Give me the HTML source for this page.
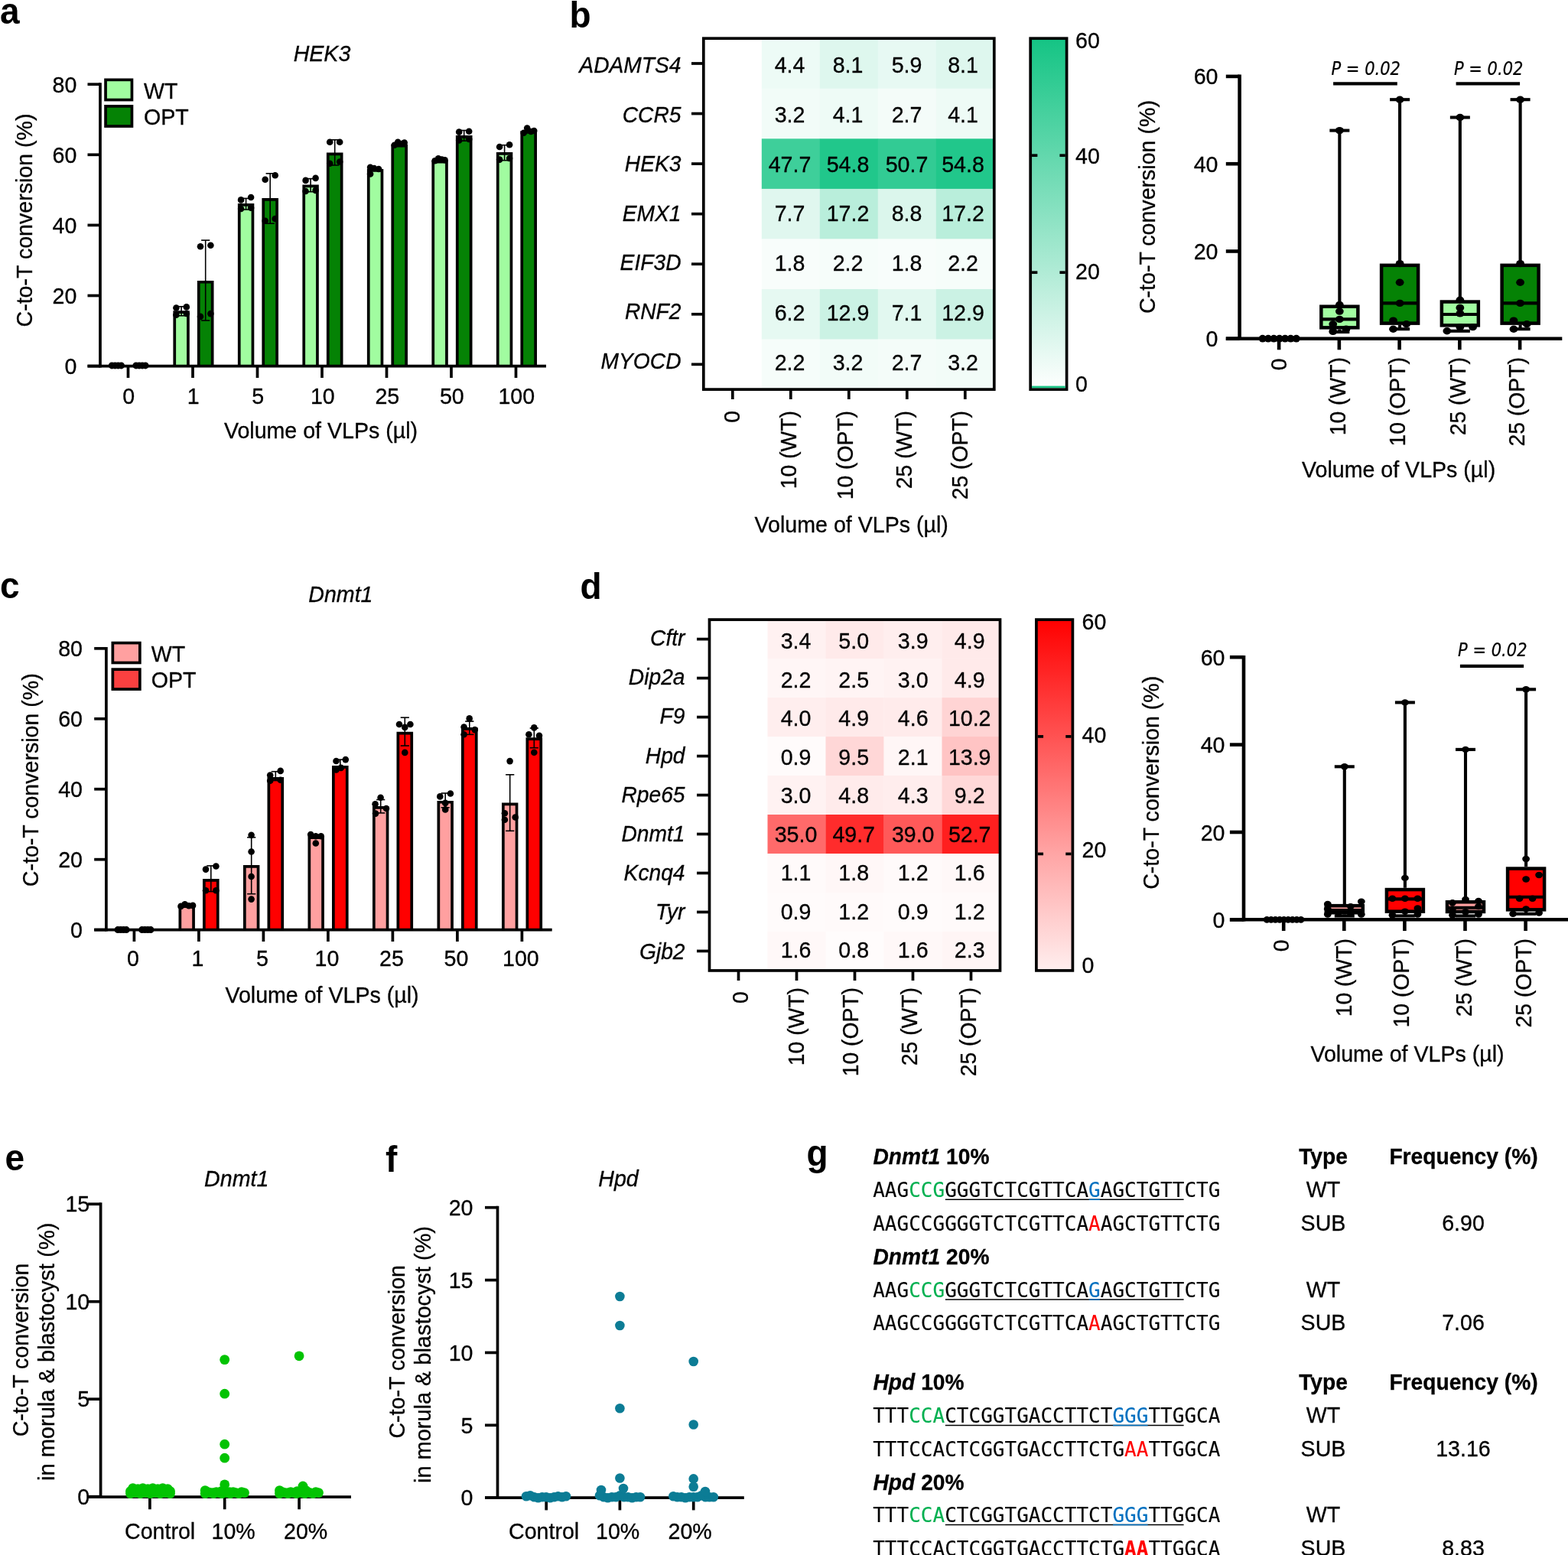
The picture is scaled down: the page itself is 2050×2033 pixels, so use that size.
<!DOCTYPE html>
<html lang="en"><head><meta charset="utf-8"><title>Figure</title>
<style>
html,body{margin:0;padding:0;background:#fff;}
body{width:2050px;height:2033px;overflow:hidden;}
svg{display:block;}
text{font-family:"Liberation Sans",Arial,Helvetica,sans-serif;font-size:28.6px;fill:#000;stroke:#000;stroke-width:0.3px;}
.i{font-style:italic;}
.b{font-weight:bold;}
.bi{font-weight:bold;font-style:italic;}
.pv{font-family:"DejaVu Sans Condensed","Liberation Sans",sans-serif;font-style:italic;stroke-width:0.2px;}
.pl{font-weight:bold;font-size:46px;stroke:none;}
.m{font-family:"DejaVu Sans Mono","Liberation Mono",monospace;font-size:26px;stroke-width:0.1px;}
.g{fill:#00b050;stroke:#00b050;}.u{fill:#0070c0;stroke:#0070c0;}.r{fill:#ff0000;stroke:#ff0000;}
</style></head><body>
<svg width="2050" height="2033" viewBox="0 0 2050 2033">
<defs>
<linearGradient id="gg" x1="0" y1="0" x2="0" y2="1"><stop offset="0" stop-color="#14c484"/><stop offset="1" stop-color="#ffffff"/></linearGradient>
<linearGradient id="gr" x1="0" y1="0" x2="0" y2="1"><stop offset="0" stop-color="#ff0000"/><stop offset="0.333" stop-color="#ff5252"/><stop offset="0.667" stop-color="#ffa5a5"/><stop offset="1" stop-color="#ffeeee"/></linearGradient>
</defs>
<text class="pl" transform="translate(0,30.7) scale(1,1.03)">a</text>
<text text-anchor="middle" class="i" transform="translate(421,80.3) scale(1,1.03)">HEK3</text>
<text text-anchor="middle" transform="translate(41.6,288) rotate(-90) scale(1,1.03)">C-to-T conversion (%)</text>
<path d="M228.25 478.7V408.05H245.95V478.7" fill="#a1fca0" stroke="#000" stroke-width="3.7"/>
<line x1="237.1" y1="400.8" x2="237.1" y2="412.8" stroke="#000" stroke-width="1.6"/>
<line x1="231.5" y1="400.8" x2="242.7" y2="400.8" stroke="#000" stroke-width="1.6"/>
<line x1="231.5" y1="412.8" x2="242.7" y2="412.8" stroke="#000" stroke-width="1.6"/>
<circle cx="230.4" cy="402.5" r="4.3" fill="#000"/>
<circle cx="243.8" cy="401.4" r="4.3" fill="#000"/>
<circle cx="230.4" cy="411.8" r="4.3" fill="#000"/>
<circle cx="243.8" cy="410" r="4.3" fill="#000"/>
<path d="M259.75 478.7V368.75H277.65V478.7" fill="#058205" stroke="#000" stroke-width="3.7"/>
<line x1="268.7" y1="314.1" x2="268.7" y2="419" stroke="#000" stroke-width="1.6"/>
<line x1="263.1" y1="314.1" x2="274.3" y2="314.1" stroke="#000" stroke-width="1.6"/>
<line x1="263.1" y1="419" x2="274.3" y2="419" stroke="#000" stroke-width="1.6"/>
<circle cx="262" cy="322.2" r="4.3" fill="#000"/>
<circle cx="275.4" cy="320.7" r="4.3" fill="#000"/>
<circle cx="262" cy="413.9" r="4.3" fill="#000"/>
<circle cx="275.4" cy="410.1" r="4.3" fill="#000"/>
<path d="M312.75 478.7V267.85H330.45V478.7" fill="#a1fca0" stroke="#000" stroke-width="3.7"/>
<line x1="321.6" y1="259.4" x2="321.6" y2="274" stroke="#000" stroke-width="1.6"/>
<line x1="316" y1="259.4" x2="327.2" y2="259.4" stroke="#000" stroke-width="1.6"/>
<line x1="316" y1="274" x2="327.2" y2="274" stroke="#000" stroke-width="1.6"/>
<circle cx="315.1" cy="261.4" r="4.3" fill="#000"/>
<circle cx="328.1" cy="258" r="4.3" fill="#000"/>
<circle cx="315.1" cy="273" r="4.3" fill="#000"/>
<circle cx="328.1" cy="271.7" r="4.3" fill="#000"/>
<path d="M344.25 478.7V260.95H362.15V478.7" fill="#058205" stroke="#000" stroke-width="3.7"/>
<line x1="353.2" y1="226.8" x2="353.2" y2="292.2" stroke="#000" stroke-width="1.6"/>
<line x1="347.6" y1="226.8" x2="358.8" y2="226.8" stroke="#000" stroke-width="1.6"/>
<line x1="347.6" y1="292.2" x2="358.8" y2="292.2" stroke="#000" stroke-width="1.6"/>
<circle cx="346.7" cy="234.8" r="4.3" fill="#000"/>
<circle cx="359.7" cy="229.3" r="4.3" fill="#000"/>
<circle cx="346.7" cy="288.7" r="4.3" fill="#000"/>
<circle cx="359.7" cy="286" r="4.3" fill="#000"/>
<path d="M397.25 478.7V243.45H414.95V478.7" fill="#a1fca0" stroke="#000" stroke-width="3.7"/>
<line x1="406.1" y1="233.6" x2="406.1" y2="250.7" stroke="#000" stroke-width="1.6"/>
<line x1="400.5" y1="233.6" x2="411.7" y2="233.6" stroke="#000" stroke-width="1.6"/>
<line x1="400.5" y1="250.7" x2="411.7" y2="250.7" stroke="#000" stroke-width="1.6"/>
<circle cx="399.6" cy="235.9" r="4.3" fill="#000"/>
<circle cx="412.6" cy="232.9" r="4.3" fill="#000"/>
<circle cx="399.6" cy="250" r="4.3" fill="#000"/>
<circle cx="412.6" cy="248.9" r="4.3" fill="#000"/>
<path d="M428.75 478.7V201.35H446.65V478.7" fill="#058205" stroke="#000" stroke-width="3.7"/>
<line x1="437.7" y1="182.8" x2="437.7" y2="216" stroke="#000" stroke-width="1.6"/>
<line x1="432.1" y1="182.8" x2="443.3" y2="182.8" stroke="#000" stroke-width="1.6"/>
<line x1="432.1" y1="216" x2="443.3" y2="216" stroke="#000" stroke-width="1.6"/>
<circle cx="431.2" cy="185.8" r="4.3" fill="#000"/>
<circle cx="444.2" cy="185.8" r="4.3" fill="#000"/>
<circle cx="431.2" cy="213.8" r="4.3" fill="#000"/>
<circle cx="444.2" cy="211.5" r="4.3" fill="#000"/>
<path d="M481.75 478.7V222.85H499.45V478.7" fill="#a1fca0" stroke="#000" stroke-width="3.7"/>
<circle cx="484.1" cy="218.8" r="4.3" fill="#000"/>
<circle cx="489.1" cy="220" r="4.3" fill="#000"/>
<circle cx="495.1" cy="221" r="4.3" fill="#000"/>
<circle cx="484.1" cy="227.5" r="4.3" fill="#000"/>
<path d="M513.25 478.7V190.65H531.15V478.7" fill="#058205" stroke="#000" stroke-width="3.7"/>
<circle cx="515.7" cy="189.7" r="4.3" fill="#000"/>
<circle cx="520.2" cy="185.8" r="4.3" fill="#000"/>
<circle cx="525.2" cy="188" r="4.3" fill="#000"/>
<circle cx="528.7" cy="186.5" r="4.3" fill="#000"/>
<path d="M566.25 478.7V211.55H583.95V478.7" fill="#a1fca0" stroke="#000" stroke-width="3.7"/>
<circle cx="568.6" cy="210.2" r="4.3" fill="#000"/>
<circle cx="573.1" cy="207.4" r="4.3" fill="#000"/>
<circle cx="577.6" cy="208.6" r="4.3" fill="#000"/>
<circle cx="581.6" cy="209.3" r="4.3" fill="#000"/>
<path d="M597.75 478.7V178.95H615.65V478.7" fill="#058205" stroke="#000" stroke-width="3.7"/>
<line x1="606.7" y1="170.5" x2="606.7" y2="184.2" stroke="#000" stroke-width="1.6"/>
<line x1="601.1" y1="170.5" x2="612.3" y2="170.5" stroke="#000" stroke-width="1.6"/>
<line x1="601.1" y1="184.2" x2="612.3" y2="184.2" stroke="#000" stroke-width="1.6"/>
<circle cx="600.2" cy="172.6" r="4.3" fill="#000"/>
<circle cx="613.2" cy="171.7" r="4.3" fill="#000"/>
<circle cx="600.2" cy="183.5" r="4.3" fill="#000"/>
<circle cx="613.2" cy="182" r="4.3" fill="#000"/>
<path d="M650.75 478.7V200.85H668.45V478.7" fill="#a1fca0" stroke="#000" stroke-width="3.7"/>
<line x1="659.6" y1="189.7" x2="659.6" y2="209.7" stroke="#000" stroke-width="1.6"/>
<line x1="654" y1="189.7" x2="665.2" y2="189.7" stroke="#000" stroke-width="1.6"/>
<line x1="654" y1="209.7" x2="665.2" y2="209.7" stroke="#000" stroke-width="1.6"/>
<circle cx="653.1" cy="192" r="4.3" fill="#000"/>
<circle cx="666.1" cy="189.2" r="4.3" fill="#000"/>
<circle cx="653.1" cy="208.6" r="4.3" fill="#000"/>
<circle cx="666.1" cy="207" r="4.3" fill="#000"/>
<path d="M682.25 478.7V172.85H700.15V478.7" fill="#058205" stroke="#000" stroke-width="3.7"/>
<circle cx="684.7" cy="173.7" r="4.3" fill="#000"/>
<circle cx="689.2" cy="167.6" r="4.3" fill="#000"/>
<circle cx="694.2" cy="172" r="4.3" fill="#000"/>
<circle cx="698.2" cy="171" r="4.3" fill="#000"/>
<circle cx="146.3" cy="477.9" r="4.5" fill="#000"/>
<circle cx="150.37" cy="477.9" r="4.5" fill="#000"/>
<circle cx="154.43" cy="477.9" r="4.5" fill="#000"/>
<circle cx="158.5" cy="477.9" r="4.5" fill="#000"/>
<circle cx="177.9" cy="477.9" r="4.5" fill="#000"/>
<circle cx="181.97" cy="477.9" r="4.5" fill="#000"/>
<circle cx="186.03" cy="477.9" r="4.5" fill="#000"/>
<circle cx="190.1" cy="477.9" r="4.5" fill="#000"/>
<line x1="131" y1="480.55" x2="131" y2="108.35" stroke="#000" stroke-width="3.7"/>
<line x1="114.5" y1="478.7" x2="714" y2="478.7" stroke="#000" stroke-width="3.7"/>
<line x1="114.5" y1="110.2" x2="131" y2="110.2" stroke="#000" stroke-width="3.7"/>
<text text-anchor="end" transform="translate(100.3,120.5) scale(1,1.03)">80</text>
<line x1="114.5" y1="202.3" x2="131" y2="202.3" stroke="#000" stroke-width="3.7"/>
<text text-anchor="end" transform="translate(100.3,212.6) scale(1,1.03)">60</text>
<line x1="114.5" y1="294.4" x2="131" y2="294.4" stroke="#000" stroke-width="3.7"/>
<text text-anchor="end" transform="translate(100.3,304.7) scale(1,1.03)">40</text>
<line x1="114.5" y1="386.5" x2="131" y2="386.5" stroke="#000" stroke-width="3.7"/>
<text text-anchor="end" transform="translate(100.3,396.8) scale(1,1.03)">20</text>
<line x1="114.5" y1="478.6" x2="131" y2="478.6" stroke="#000" stroke-width="3.7"/>
<text text-anchor="end" transform="translate(100.3,488.9) scale(1,1.03)">0</text>
<line x1="167.5" y1="478.7" x2="167.5" y2="494" stroke="#000" stroke-width="3.7"/>
<text text-anchor="middle" transform="translate(168.3,528.4) scale(1,1.03)">0</text>
<line x1="252" y1="478.7" x2="252" y2="494" stroke="#000" stroke-width="3.7"/>
<text text-anchor="middle" transform="translate(252.8,528.4) scale(1,1.03)">1</text>
<line x1="336.5" y1="478.7" x2="336.5" y2="494" stroke="#000" stroke-width="3.7"/>
<text text-anchor="middle" transform="translate(337.3,528.4) scale(1,1.03)">5</text>
<line x1="421" y1="478.7" x2="421" y2="494" stroke="#000" stroke-width="3.7"/>
<text text-anchor="middle" transform="translate(421.8,528.4) scale(1,1.03)">10</text>
<line x1="505.5" y1="478.7" x2="505.5" y2="494" stroke="#000" stroke-width="3.7"/>
<text text-anchor="middle" transform="translate(506.3,528.4) scale(1,1.03)">25</text>
<line x1="590" y1="478.7" x2="590" y2="494" stroke="#000" stroke-width="3.7"/>
<text text-anchor="middle" transform="translate(590.8,528.4) scale(1,1.03)">50</text>
<line x1="674.5" y1="478.7" x2="674.5" y2="494" stroke="#000" stroke-width="3.7"/>
<text text-anchor="middle" transform="translate(675.3,528.4) scale(1,1.03)">100</text>
<rect x="138.05" y="104.35" width="34.4" height="26.2" fill="#a1fca0" stroke="#000" stroke-width="3.7"/>
<rect x="138.05" y="138.85" width="34.4" height="26.2" fill="#058205" stroke="#000" stroke-width="3.7"/>
<text transform="translate(188,128.8) scale(1,1.03)">WT</text>
<text transform="translate(188,163) scale(1,1.03)">OPT</text>
<text text-anchor="middle" transform="translate(419.5,573.3) scale(1,1.03)">Volume of VLPs (µl)</text>
<text class="pl" transform="translate(0,782) scale(1,1.03)">c</text>
<text text-anchor="middle" class="i" transform="translate(445.4,786.7) scale(1,1.03)">Dnmt1</text>
<text text-anchor="middle" transform="translate(50.3,1019.7) rotate(-90) scale(1,1.03)">C-to-T conversion (%)</text>
<path d="M235.35 1215.6V1185.05H253.05V1215.6" fill="#ffa0a0" stroke="#000" stroke-width="3.7"/>
<circle cx="236.5" cy="1184.9" r="4.3" fill="#000"/>
<circle cx="241.7" cy="1182.2" r="4.3" fill="#000"/>
<circle cx="246.9" cy="1184.3" r="4.3" fill="#000"/>
<circle cx="252.1" cy="1183.9" r="4.3" fill="#000"/>
<path d="M266.85 1215.6V1150.85H284.75V1215.6" fill="#ff0000" stroke="#000" stroke-width="3.7"/>
<line x1="275.8" y1="1131.9" x2="275.8" y2="1165.6" stroke="#000" stroke-width="1.6"/>
<line x1="270.2" y1="1131.9" x2="281.4" y2="1131.9" stroke="#000" stroke-width="1.6"/>
<line x1="270.2" y1="1165.6" x2="281.4" y2="1165.6" stroke="#000" stroke-width="1.6"/>
<circle cx="269" cy="1136.6" r="4.3" fill="#000"/>
<circle cx="282.4" cy="1132.5" r="4.3" fill="#000"/>
<circle cx="269" cy="1164.2" r="4.3" fill="#000"/>
<circle cx="282.4" cy="1164.2" r="4.3" fill="#000"/>
<path d="M319.85 1215.6V1132.85H337.55V1215.6" fill="#ffa0a0" stroke="#000" stroke-width="3.7"/>
<line x1="328.7" y1="1094.8" x2="328.7" y2="1168.7" stroke="#000" stroke-width="1.6"/>
<line x1="323.1" y1="1094.8" x2="334.3" y2="1094.8" stroke="#000" stroke-width="1.6"/>
<line x1="323.1" y1="1168.7" x2="334.3" y2="1168.7" stroke="#000" stroke-width="1.6"/>
<circle cx="328.6" cy="1091.7" r="4.3" fill="#000"/>
<circle cx="328.6" cy="1113.5" r="4.3" fill="#000"/>
<circle cx="328.6" cy="1146" r="4.3" fill="#000"/>
<circle cx="328.6" cy="1175.6" r="4.3" fill="#000"/>
<path d="M351.35 1215.6V1017.95H369.25V1215.6" fill="#ff0000" stroke="#000" stroke-width="3.7"/>
<line x1="360.3" y1="1008.7" x2="360.3" y2="1020.5" stroke="#000" stroke-width="1.6"/>
<line x1="354.7" y1="1008.7" x2="365.9" y2="1008.7" stroke="#000" stroke-width="1.6"/>
<line x1="354.7" y1="1020.5" x2="365.9" y2="1020.5" stroke="#000" stroke-width="1.6"/>
<circle cx="353.2" cy="1013.5" r="4.3" fill="#000"/>
<circle cx="366.7" cy="1007.9" r="4.3" fill="#000"/>
<circle cx="353.2" cy="1020.7" r="4.3" fill="#000"/>
<circle cx="366.7" cy="1019.7" r="4.3" fill="#000"/>
<path d="M404.35 1215.6V1095.05H422.05V1215.6" fill="#ffa0a0" stroke="#000" stroke-width="3.7"/>
<circle cx="406.2" cy="1091.1" r="4.3" fill="#000"/>
<circle cx="412.8" cy="1093.2" r="4.3" fill="#000"/>
<circle cx="419.7" cy="1093.2" r="4.3" fill="#000"/>
<circle cx="412.8" cy="1102.5" r="4.3" fill="#000"/>
<path d="M435.85 1215.6V1002.85H453.75V1215.6" fill="#ff0000" stroke="#000" stroke-width="3.7"/>
<line x1="444.8" y1="993.1" x2="444.8" y2="1004" stroke="#000" stroke-width="1.6"/>
<line x1="439.2" y1="993.1" x2="450.4" y2="993.1" stroke="#000" stroke-width="1.6"/>
<line x1="439.2" y1="1004" x2="450.4" y2="1004" stroke="#000" stroke-width="1.6"/>
<circle cx="439.5" cy="995" r="4.3" fill="#000"/>
<circle cx="451.8" cy="993.1" r="4.3" fill="#000"/>
<circle cx="439.5" cy="1006.5" r="4.3" fill="#000"/>
<circle cx="445.8" cy="1003.9" r="4.3" fill="#000"/>
<path d="M488.85 1215.6V1055.85H506.55V1215.6" fill="#ffa0a0" stroke="#000" stroke-width="3.7"/>
<line x1="497.7" y1="1045.5" x2="497.7" y2="1062.9" stroke="#000" stroke-width="1.6"/>
<line x1="492.1" y1="1045.5" x2="503.3" y2="1045.5" stroke="#000" stroke-width="1.6"/>
<line x1="492.1" y1="1062.9" x2="503.3" y2="1062.9" stroke="#000" stroke-width="1.6"/>
<circle cx="497.6" cy="1042.8" r="4.3" fill="#000"/>
<circle cx="490.6" cy="1051.3" r="4.3" fill="#000"/>
<circle cx="505" cy="1057" r="4.3" fill="#000"/>
<circle cx="491" cy="1063.6" r="4.3" fill="#000"/>
<path d="M520.35 1215.6V958.65H538.25V1215.6" fill="#ff0000" stroke="#000" stroke-width="3.7"/>
<line x1="529.3" y1="938.1" x2="529.3" y2="975" stroke="#000" stroke-width="1.6"/>
<line x1="523.7" y1="938.1" x2="534.9" y2="938.1" stroke="#000" stroke-width="1.6"/>
<line x1="523.7" y1="975" x2="534.9" y2="975" stroke="#000" stroke-width="1.6"/>
<circle cx="522" cy="947" r="4.3" fill="#000"/>
<circle cx="536.4" cy="947" r="4.3" fill="#000"/>
<circle cx="529.3" cy="950.9" r="4.3" fill="#000"/>
<circle cx="529.3" cy="983.9" r="4.3" fill="#000"/>
<path d="M573.35 1215.6V1048.75H591.05V1215.6" fill="#ffa0a0" stroke="#000" stroke-width="3.7"/>
<line x1="582.2" y1="1037" x2="582.2" y2="1055.8" stroke="#000" stroke-width="1.6"/>
<line x1="576.6" y1="1037" x2="587.8" y2="1037" stroke="#000" stroke-width="1.6"/>
<line x1="576.6" y1="1055.8" x2="587.8" y2="1055.8" stroke="#000" stroke-width="1.6"/>
<circle cx="575.3" cy="1041.4" r="4.3" fill="#000"/>
<circle cx="588.9" cy="1037.5" r="4.3" fill="#000"/>
<circle cx="582.2" cy="1049.9" r="4.3" fill="#000"/>
<circle cx="582.2" cy="1058.4" r="4.3" fill="#000"/>
<path d="M604.85 1215.6V952.95H622.75V1215.6" fill="#ff0000" stroke="#000" stroke-width="3.7"/>
<line x1="613.8" y1="943.1" x2="613.8" y2="960.3" stroke="#000" stroke-width="1.6"/>
<line x1="608.2" y1="943.1" x2="619.4" y2="943.1" stroke="#000" stroke-width="1.6"/>
<line x1="608.2" y1="960.3" x2="619.4" y2="960.3" stroke="#000" stroke-width="1.6"/>
<circle cx="613.7" cy="939.4" r="4.3" fill="#000"/>
<circle cx="606.6" cy="950.6" r="4.3" fill="#000"/>
<circle cx="620.8" cy="954.1" r="4.3" fill="#000"/>
<circle cx="606.6" cy="960.3" r="4.3" fill="#000"/>
<path d="M657.85 1215.6V1051.35H675.55V1215.6" fill="#ffa0a0" stroke="#000" stroke-width="3.7"/>
<line x1="666.7" y1="1012.8" x2="666.7" y2="1086.3" stroke="#000" stroke-width="1.6"/>
<line x1="661.1" y1="1012.8" x2="672.3" y2="1012.8" stroke="#000" stroke-width="1.6"/>
<line x1="661.1" y1="1086.3" x2="672.3" y2="1086.3" stroke="#000" stroke-width="1.6"/>
<circle cx="666.6" cy="995.1" r="4.3" fill="#000"/>
<circle cx="659.9" cy="1063.2" r="4.3" fill="#000"/>
<circle cx="673.7" cy="1068.5" r="4.3" fill="#000"/>
<circle cx="659.9" cy="1071.7" r="4.3" fill="#000"/>
<path d="M689.35 1215.6V966.05H707.25V1215.6" fill="#ff0000" stroke="#000" stroke-width="3.7"/>
<line x1="698.3" y1="952" x2="698.3" y2="977.7" stroke="#000" stroke-width="1.6"/>
<line x1="692.7" y1="952" x2="703.9" y2="952" stroke="#000" stroke-width="1.6"/>
<line x1="692.7" y1="977.7" x2="703.9" y2="977.7" stroke="#000" stroke-width="1.6"/>
<circle cx="698.3" cy="951.4" r="4.3" fill="#000"/>
<circle cx="691.4" cy="960.3" r="4.3" fill="#000"/>
<circle cx="705" cy="961.7" r="4.3" fill="#000"/>
<circle cx="698.3" cy="983.7" r="4.3" fill="#000"/>
<circle cx="154" cy="1215.6" r="4.5" fill="#000"/>
<circle cx="157.73" cy="1215.6" r="4.5" fill="#000"/>
<circle cx="161.47" cy="1215.6" r="4.5" fill="#000"/>
<circle cx="165.2" cy="1215.6" r="4.5" fill="#000"/>
<circle cx="185.6" cy="1215.6" r="4.5" fill="#000"/>
<circle cx="189.4" cy="1215.6" r="4.5" fill="#000"/>
<circle cx="193.2" cy="1215.6" r="4.5" fill="#000"/>
<circle cx="197" cy="1215.6" r="4.5" fill="#000"/>
<line x1="138.9" y1="1217.45" x2="138.9" y2="845.95" stroke="#000" stroke-width="3.7"/>
<line x1="123.2" y1="1215.6" x2="721.7" y2="1215.6" stroke="#000" stroke-width="3.7"/>
<line x1="123.2" y1="847.8" x2="138.9" y2="847.8" stroke="#000" stroke-width="3.7"/>
<text text-anchor="end" transform="translate(108,858.1) scale(1,1.03)">80</text>
<line x1="123.2" y1="939.75" x2="138.9" y2="939.75" stroke="#000" stroke-width="3.7"/>
<text text-anchor="end" transform="translate(108,950.05) scale(1,1.03)">60</text>
<line x1="123.2" y1="1031.7" x2="138.9" y2="1031.7" stroke="#000" stroke-width="3.7"/>
<text text-anchor="end" transform="translate(108,1042) scale(1,1.03)">40</text>
<line x1="123.2" y1="1123.65" x2="138.9" y2="1123.65" stroke="#000" stroke-width="3.7"/>
<text text-anchor="end" transform="translate(108,1133.95) scale(1,1.03)">20</text>
<line x1="123.2" y1="1215.6" x2="138.9" y2="1215.6" stroke="#000" stroke-width="3.7"/>
<text text-anchor="end" transform="translate(108,1225.9) scale(1,1.03)">0</text>
<line x1="175.4" y1="1215.6" x2="175.4" y2="1231" stroke="#000" stroke-width="3.7"/>
<text text-anchor="middle" transform="translate(173.9,1262.5) scale(1,1.03)">0</text>
<line x1="259.9" y1="1215.6" x2="259.9" y2="1231" stroke="#000" stroke-width="3.7"/>
<text text-anchor="middle" transform="translate(258.4,1262.5) scale(1,1.03)">1</text>
<line x1="344.4" y1="1215.6" x2="344.4" y2="1231" stroke="#000" stroke-width="3.7"/>
<text text-anchor="middle" transform="translate(342.9,1262.5) scale(1,1.03)">5</text>
<line x1="428.9" y1="1215.6" x2="428.9" y2="1231" stroke="#000" stroke-width="3.7"/>
<text text-anchor="middle" transform="translate(427.4,1262.5) scale(1,1.03)">10</text>
<line x1="513.4" y1="1215.6" x2="513.4" y2="1231" stroke="#000" stroke-width="3.7"/>
<text text-anchor="middle" transform="translate(511.9,1262.5) scale(1,1.03)">25</text>
<line x1="597.9" y1="1215.6" x2="597.9" y2="1231" stroke="#000" stroke-width="3.7"/>
<text text-anchor="middle" transform="translate(596.4,1262.5) scale(1,1.03)">50</text>
<line x1="682.4" y1="1215.6" x2="682.4" y2="1231" stroke="#000" stroke-width="3.7"/>
<text text-anchor="middle" transform="translate(680.9,1262.5) scale(1,1.03)">100</text>
<rect x="147.35" y="840.55" width="35.5" height="25.9" fill="#ffa0a0" stroke="#000" stroke-width="3.7"/>
<rect x="147.35" y="875.15" width="35.5" height="25.9" fill="#fa4040" stroke="#000" stroke-width="3.7"/>
<text transform="translate(197.8,865) scale(1,1.03)">WT</text>
<text transform="translate(197.8,898.7) scale(1,1.03)">OPT</text>
<text text-anchor="middle" transform="translate(421,1311) scale(1,1.03)">Volume of VLPs (µl)</text>
<text class="pl" transform="translate(744.5,35.6) scale(1,1.03)">b</text>
<rect x="995.8" y="50.2" width="76.3" height="65.86" fill="#edfbf6"/>
<rect x="1071.8" y="50.2" width="76.3" height="65.86" fill="#def7ee"/>
<rect x="1147.8" y="50.2" width="76.3" height="65.86" fill="#e7f9f3"/>
<rect x="1223.8" y="50.2" width="76.3" height="65.86" fill="#def7ee"/>
<rect x="995.8" y="115.76" width="76.3" height="65.86" fill="#f2fcf8"/>
<rect x="1071.8" y="115.76" width="76.3" height="65.86" fill="#eefbf6"/>
<rect x="1147.8" y="115.76" width="76.3" height="65.86" fill="#f4fcf9"/>
<rect x="1223.8" y="115.76" width="76.3" height="65.86" fill="#eefbf6"/>
<rect x="995.8" y="181.32" width="76.3" height="65.86" fill="#3ecf9a"/>
<rect x="1071.8" y="181.32" width="76.3" height="65.86" fill="#21c78b"/>
<rect x="1147.8" y="181.32" width="76.3" height="65.86" fill="#32cb94"/>
<rect x="1223.8" y="181.32" width="76.3" height="65.86" fill="#21c78b"/>
<rect x="995.8" y="246.88" width="76.3" height="65.86" fill="#e0f7ef"/>
<rect x="1071.8" y="246.88" width="76.3" height="65.86" fill="#b9eedb"/>
<rect x="1147.8" y="246.88" width="76.3" height="65.86" fill="#dbf6ec"/>
<rect x="1223.8" y="246.88" width="76.3" height="65.86" fill="#b9eedb"/>
<rect x="995.8" y="312.44" width="76.3" height="65.86" fill="#f8fdfb"/>
<rect x="1071.8" y="312.44" width="76.3" height="65.86" fill="#f6fdfa"/>
<rect x="1147.8" y="312.44" width="76.3" height="65.86" fill="#f8fdfb"/>
<rect x="1223.8" y="312.44" width="76.3" height="65.86" fill="#f6fdfa"/>
<rect x="995.8" y="378" width="76.3" height="65.86" fill="#e6f9f2"/>
<rect x="1071.8" y="378" width="76.3" height="65.86" fill="#cbf2e4"/>
<rect x="1147.8" y="378" width="76.3" height="65.86" fill="#e2f8f0"/>
<rect x="1223.8" y="378" width="76.3" height="65.86" fill="#cbf2e4"/>
<rect x="995.8" y="443.56" width="76.3" height="65.86" fill="#f6fdfa"/>
<rect x="1071.8" y="443.56" width="76.3" height="65.86" fill="#f2fcf8"/>
<rect x="1147.8" y="443.56" width="76.3" height="65.86" fill="#f4fcf9"/>
<rect x="1223.8" y="443.56" width="76.3" height="65.86" fill="#f2fcf8"/>
<text text-anchor="middle" transform="translate(1032.5,95.2) scale(1,1.03)">4.4</text>
<text text-anchor="middle" transform="translate(1108.5,95.2) scale(1,1.03)">8.1</text>
<text text-anchor="middle" transform="translate(1185.5,95.2) scale(1,1.03)">5.9</text>
<text text-anchor="middle" transform="translate(1259,95.2) scale(1,1.03)">8.1</text>
<line x1="904" y1="82.98" x2="919.8" y2="82.98" stroke="#000" stroke-width="3.7"/>
<text text-anchor="end" class="i" style="font-size:28.2px" transform="translate(890.5,95.2) scale(1,1.03)">ADAMTS4</text>
<text text-anchor="middle" transform="translate(1032.5,159.95) scale(1,1.03)">3.2</text>
<text text-anchor="middle" transform="translate(1108.5,159.95) scale(1,1.03)">4.1</text>
<text text-anchor="middle" transform="translate(1185.5,159.95) scale(1,1.03)">2.7</text>
<text text-anchor="middle" transform="translate(1259,159.95) scale(1,1.03)">4.1</text>
<line x1="904" y1="148.54" x2="919.8" y2="148.54" stroke="#000" stroke-width="3.7"/>
<text text-anchor="end" class="i" style="font-size:28.2px" transform="translate(890.5,159.65) scale(1,1.03)">CCR5</text>
<text text-anchor="middle" transform="translate(1032.5,224.7) scale(1,1.03)">47.7</text>
<text text-anchor="middle" transform="translate(1108.5,224.7) scale(1,1.03)">54.8</text>
<text text-anchor="middle" transform="translate(1185.5,224.7) scale(1,1.03)">50.7</text>
<text text-anchor="middle" transform="translate(1259,224.7) scale(1,1.03)">54.8</text>
<line x1="904" y1="214.1" x2="919.8" y2="214.1" stroke="#000" stroke-width="3.7"/>
<text text-anchor="end" class="i" style="font-size:28.2px" transform="translate(890.5,224.1) scale(1,1.03)">HEK3</text>
<text text-anchor="middle" transform="translate(1032.5,289.45) scale(1,1.03)">7.7</text>
<text text-anchor="middle" transform="translate(1108.5,289.45) scale(1,1.03)">17.2</text>
<text text-anchor="middle" transform="translate(1185.5,289.45) scale(1,1.03)">8.8</text>
<text text-anchor="middle" transform="translate(1259,289.45) scale(1,1.03)">17.2</text>
<line x1="904" y1="279.66" x2="919.8" y2="279.66" stroke="#000" stroke-width="3.7"/>
<text text-anchor="end" class="i" style="font-size:28.2px" transform="translate(890.5,288.55) scale(1,1.03)">EMX1</text>
<text text-anchor="middle" transform="translate(1032.5,354.2) scale(1,1.03)">1.8</text>
<text text-anchor="middle" transform="translate(1108.5,354.2) scale(1,1.03)">2.2</text>
<text text-anchor="middle" transform="translate(1185.5,354.2) scale(1,1.03)">1.8</text>
<text text-anchor="middle" transform="translate(1259,354.2) scale(1,1.03)">2.2</text>
<line x1="904" y1="345.22" x2="919.8" y2="345.22" stroke="#000" stroke-width="3.7"/>
<text text-anchor="end" class="i" style="font-size:28.2px" transform="translate(890.5,353) scale(1,1.03)">EIF3D</text>
<text text-anchor="middle" transform="translate(1032.5,418.95) scale(1,1.03)">6.2</text>
<text text-anchor="middle" transform="translate(1108.5,418.95) scale(1,1.03)">12.9</text>
<text text-anchor="middle" transform="translate(1185.5,418.95) scale(1,1.03)">7.1</text>
<text text-anchor="middle" transform="translate(1259,418.95) scale(1,1.03)">12.9</text>
<line x1="904" y1="410.78" x2="919.8" y2="410.78" stroke="#000" stroke-width="3.7"/>
<text text-anchor="end" class="i" style="font-size:28.2px" transform="translate(890.5,417.45) scale(1,1.03)">RNF2</text>
<text text-anchor="middle" transform="translate(1032.5,483.7) scale(1,1.03)">2.2</text>
<text text-anchor="middle" transform="translate(1108.5,483.7) scale(1,1.03)">3.2</text>
<text text-anchor="middle" transform="translate(1185.5,483.7) scale(1,1.03)">2.7</text>
<text text-anchor="middle" transform="translate(1259,483.7) scale(1,1.03)">3.2</text>
<line x1="904" y1="476.34" x2="919.8" y2="476.34" stroke="#000" stroke-width="3.7"/>
<text text-anchor="end" class="i" style="font-size:28.2px" transform="translate(890.5,481.9) scale(1,1.03)">MYOCD</text>
<rect x="919.8" y="50.2" width="380" height="458.92" fill="none" stroke="#000" stroke-width="3.7"/>
<line x1="957.8" y1="509.12" x2="957.8" y2="522" stroke="#000" stroke-width="3.7"/>
<text text-anchor="end" style="font-size:28.3px" transform="translate(967.2,537) rotate(-90) scale(1,1.03)">0</text>
<line x1="1033.8" y1="509.12" x2="1033.8" y2="522" stroke="#000" stroke-width="3.7"/>
<text text-anchor="end" style="font-size:28.3px" transform="translate(1040.85,537) rotate(-90) scale(1,1.03)">10 (WT)</text>
<line x1="1109.8" y1="509.12" x2="1109.8" y2="522" stroke="#000" stroke-width="3.7"/>
<text text-anchor="end" style="font-size:28.3px" transform="translate(1114.8,537) rotate(-90) scale(1,1.03)">10 (OPT)</text>
<line x1="1185.8" y1="509.12" x2="1185.8" y2="522" stroke="#000" stroke-width="3.7"/>
<text text-anchor="end" style="font-size:28.3px" transform="translate(1192.15,537) rotate(-90) scale(1,1.03)">25 (WT)</text>
<line x1="1261.8" y1="509.12" x2="1261.8" y2="522" stroke="#000" stroke-width="3.7"/>
<text text-anchor="end" style="font-size:28.3px" transform="translate(1265.4,537) rotate(-90) scale(1,1.03)">25 (OPT)</text>
<text text-anchor="middle" transform="translate(1113.2,695.6) scale(1,1.03)">Volume of VLPs (µl)</text>
<rect x="1347.2" y="50.2" width="47.4" height="458.9" fill="url(#gg)" stroke="#000" stroke-width="3.7"/>
<line x1="1349.05" y1="203.2" x2="1356.35" y2="203.2" stroke="#000" stroke-width="3.7"/>
<line x1="1385.45" y1="203.2" x2="1392.75" y2="203.2" stroke="#000" stroke-width="3.7"/>
<line x1="1349.05" y1="356.2" x2="1356.35" y2="356.2" stroke="#000" stroke-width="3.7"/>
<line x1="1385.45" y1="356.2" x2="1392.75" y2="356.2" stroke="#000" stroke-width="3.7"/>
<text transform="translate(1406,63.1) scale(1,1.03)">60</text>
<text transform="translate(1406,213.7) scale(1,1.03)">40</text>
<text transform="translate(1406,365.2) scale(1,1.03)">20</text>
<text transform="translate(1406,512.2) scale(1,1.03)">0</text>
<rect x="1349" y="504.6" width="43.8" height="2.6" fill="#1bc587"/>
<text class="pl" transform="translate(758.5,783.4) scale(1,1.03)">d</text>
<rect x="1003.5" y="810.1" width="76.3" height="51.28" fill="#fff1f1"/>
<rect x="1079.5" y="810.1" width="76.3" height="51.28" fill="#ffeaea"/>
<rect x="1155.5" y="810.1" width="76.3" height="51.28" fill="#ffeeee"/>
<rect x="1231.5" y="810.1" width="76.3" height="51.28" fill="#ffeaea"/>
<rect x="1003.5" y="861.08" width="76.3" height="51.28" fill="#fff6f6"/>
<rect x="1079.5" y="861.08" width="76.3" height="51.28" fill="#fff4f4"/>
<rect x="1155.5" y="861.08" width="76.3" height="51.28" fill="#fff2f2"/>
<rect x="1231.5" y="861.08" width="76.3" height="51.28" fill="#ffeaea"/>
<rect x="1003.5" y="912.06" width="76.3" height="51.28" fill="#ffeeee"/>
<rect x="1079.5" y="912.06" width="76.3" height="51.28" fill="#ffeaea"/>
<rect x="1155.5" y="912.06" width="76.3" height="51.28" fill="#ffebeb"/>
<rect x="1231.5" y="912.06" width="76.3" height="51.28" fill="#ffd4d4"/>
<rect x="1003.5" y="963.04" width="76.3" height="51.28" fill="#fffbfb"/>
<rect x="1079.5" y="963.04" width="76.3" height="51.28" fill="#ffd7d7"/>
<rect x="1155.5" y="963.04" width="76.3" height="51.28" fill="#fff6f6"/>
<rect x="1231.5" y="963.04" width="76.3" height="51.28" fill="#ffc4c4"/>
<rect x="1003.5" y="1014.02" width="76.3" height="51.28" fill="#fff2f2"/>
<rect x="1079.5" y="1014.02" width="76.3" height="51.28" fill="#ffebeb"/>
<rect x="1155.5" y="1014.02" width="76.3" height="51.28" fill="#ffeded"/>
<rect x="1231.5" y="1014.02" width="76.3" height="51.28" fill="#ffd8d8"/>
<rect x="1003.5" y="1065" width="76.3" height="51.28" fill="#ff6a6a"/>
<rect x="1079.5" y="1065" width="76.3" height="51.28" fill="#ff2c2c"/>
<rect x="1155.5" y="1065" width="76.3" height="51.28" fill="#ff5959"/>
<rect x="1231.5" y="1065" width="76.3" height="51.28" fill="#ff1f1f"/>
<rect x="1003.5" y="1115.98" width="76.3" height="51.28" fill="#fffafa"/>
<rect x="1079.5" y="1115.98" width="76.3" height="51.28" fill="#fff7f7"/>
<rect x="1155.5" y="1115.98" width="76.3" height="51.28" fill="#fffafa"/>
<rect x="1231.5" y="1115.98" width="76.3" height="51.28" fill="#fff8f8"/>
<rect x="1003.5" y="1166.96" width="76.3" height="51.28" fill="#fffbfb"/>
<rect x="1079.5" y="1166.96" width="76.3" height="51.28" fill="#fffafa"/>
<rect x="1155.5" y="1166.96" width="76.3" height="51.28" fill="#fffbfb"/>
<rect x="1231.5" y="1166.96" width="76.3" height="51.28" fill="#fffafa"/>
<rect x="1003.5" y="1217.94" width="76.3" height="51.28" fill="#fff8f8"/>
<rect x="1079.5" y="1217.94" width="76.3" height="51.28" fill="#fffcfc"/>
<rect x="1155.5" y="1217.94" width="76.3" height="51.28" fill="#fff8f8"/>
<rect x="1231.5" y="1217.94" width="76.3" height="51.28" fill="#fff5f5"/>
<text text-anchor="middle" transform="translate(1040.5,848.4) scale(1,1.03)">3.4</text>
<text text-anchor="middle" transform="translate(1116.2,848.4) scale(1,1.03)">5.0</text>
<text text-anchor="middle" transform="translate(1193.7,848.4) scale(1,1.03)">3.9</text>
<text text-anchor="middle" transform="translate(1267.7,848.4) scale(1,1.03)">4.9</text>
<line x1="911" y1="835.59" x2="927.5" y2="835.59" stroke="#000" stroke-width="3.7"/>
<text text-anchor="end" class="i" style="font-size:28.2px" transform="translate(895.5,843.9) scale(1,1.03)">Cftr</text>
<text text-anchor="middle" transform="translate(1040.5,898.85) scale(1,1.03)">2.2</text>
<text text-anchor="middle" transform="translate(1116.2,898.85) scale(1,1.03)">2.5</text>
<text text-anchor="middle" transform="translate(1193.7,898.85) scale(1,1.03)">3.0</text>
<text text-anchor="middle" transform="translate(1267.7,898.85) scale(1,1.03)">4.9</text>
<line x1="911" y1="886.57" x2="927.5" y2="886.57" stroke="#000" stroke-width="3.7"/>
<text text-anchor="end" class="i" style="font-size:28.2px" transform="translate(895.5,895.1) scale(1,1.03)">Dip2a</text>
<text text-anchor="middle" transform="translate(1040.5,949.3) scale(1,1.03)">4.0</text>
<text text-anchor="middle" transform="translate(1116.2,949.3) scale(1,1.03)">4.9</text>
<text text-anchor="middle" transform="translate(1193.7,949.3) scale(1,1.03)">4.6</text>
<text text-anchor="middle" transform="translate(1267.7,949.3) scale(1,1.03)">10.2</text>
<line x1="911" y1="937.55" x2="927.5" y2="937.55" stroke="#000" stroke-width="3.7"/>
<text text-anchor="end" class="i" style="font-size:28.2px" transform="translate(895.5,946.3) scale(1,1.03)">F9</text>
<text text-anchor="middle" transform="translate(1040.5,999.75) scale(1,1.03)">0.9</text>
<text text-anchor="middle" transform="translate(1116.2,999.75) scale(1,1.03)">9.5</text>
<text text-anchor="middle" transform="translate(1193.7,999.75) scale(1,1.03)">2.1</text>
<text text-anchor="middle" transform="translate(1267.7,999.75) scale(1,1.03)">13.9</text>
<line x1="911" y1="988.53" x2="927.5" y2="988.53" stroke="#000" stroke-width="3.7"/>
<text text-anchor="end" class="i" style="font-size:28.2px" transform="translate(895.5,997.5) scale(1,1.03)">Hpd</text>
<text text-anchor="middle" transform="translate(1040.5,1050.2) scale(1,1.03)">3.0</text>
<text text-anchor="middle" transform="translate(1116.2,1050.2) scale(1,1.03)">4.8</text>
<text text-anchor="middle" transform="translate(1193.7,1050.2) scale(1,1.03)">4.3</text>
<text text-anchor="middle" transform="translate(1267.7,1050.2) scale(1,1.03)">9.2</text>
<line x1="911" y1="1039.51" x2="927.5" y2="1039.51" stroke="#000" stroke-width="3.7"/>
<text text-anchor="end" class="i" style="font-size:28.2px" transform="translate(895.5,1048.7) scale(1,1.03)">Rpe65</text>
<text text-anchor="middle" transform="translate(1040.5,1100.65) scale(1,1.03)">35.0</text>
<text text-anchor="middle" transform="translate(1116.2,1100.65) scale(1,1.03)">49.7</text>
<text text-anchor="middle" transform="translate(1193.7,1100.65) scale(1,1.03)">39.0</text>
<text text-anchor="middle" transform="translate(1267.7,1100.65) scale(1,1.03)">52.7</text>
<line x1="911" y1="1090.49" x2="927.5" y2="1090.49" stroke="#000" stroke-width="3.7"/>
<text text-anchor="end" class="i" style="font-size:28.2px" transform="translate(895.5,1099.9) scale(1,1.03)">Dnmt1</text>
<text text-anchor="middle" transform="translate(1040.5,1151.1) scale(1,1.03)">1.1</text>
<text text-anchor="middle" transform="translate(1116.2,1151.1) scale(1,1.03)">1.8</text>
<text text-anchor="middle" transform="translate(1193.7,1151.1) scale(1,1.03)">1.2</text>
<text text-anchor="middle" transform="translate(1267.7,1151.1) scale(1,1.03)">1.6</text>
<line x1="911" y1="1141.47" x2="927.5" y2="1141.47" stroke="#000" stroke-width="3.7"/>
<text text-anchor="end" class="i" style="font-size:28.2px" transform="translate(895.5,1151.1) scale(1,1.03)">Kcnq4</text>
<text text-anchor="middle" transform="translate(1040.5,1201.55) scale(1,1.03)">0.9</text>
<text text-anchor="middle" transform="translate(1116.2,1201.55) scale(1,1.03)">1.2</text>
<text text-anchor="middle" transform="translate(1193.7,1201.55) scale(1,1.03)">0.9</text>
<text text-anchor="middle" transform="translate(1267.7,1201.55) scale(1,1.03)">1.2</text>
<line x1="911" y1="1192.45" x2="927.5" y2="1192.45" stroke="#000" stroke-width="3.7"/>
<text text-anchor="end" class="i" style="font-size:28.2px" transform="translate(895.5,1202.3) scale(1,1.03)">Tyr</text>
<text text-anchor="middle" transform="translate(1040.5,1252) scale(1,1.03)">1.6</text>
<text text-anchor="middle" transform="translate(1116.2,1252) scale(1,1.03)">0.8</text>
<text text-anchor="middle" transform="translate(1193.7,1252) scale(1,1.03)">1.6</text>
<text text-anchor="middle" transform="translate(1267.7,1252) scale(1,1.03)">2.3</text>
<line x1="911" y1="1243.43" x2="927.5" y2="1243.43" stroke="#000" stroke-width="3.7"/>
<text text-anchor="end" class="i" style="font-size:28.2px" transform="translate(895.5,1253.5) scale(1,1.03)">Gjb2</text>
<rect x="927.5" y="810.1" width="380" height="458.82" fill="none" stroke="#000" stroke-width="3.7"/>
<line x1="965.5" y1="1268.92" x2="965.5" y2="1282" stroke="#000" stroke-width="3.7"/>
<text text-anchor="end" style="font-size:28.3px" transform="translate(977.7,1296.3) rotate(-90) scale(1,1.03)">0</text>
<line x1="1041.5" y1="1268.92" x2="1041.5" y2="1282" stroke="#000" stroke-width="3.7"/>
<text text-anchor="end" style="font-size:28.3px" transform="translate(1050.5,1291) rotate(-90) scale(1,1.03)">10 (WT)</text>
<line x1="1117.5" y1="1268.92" x2="1117.5" y2="1282" stroke="#000" stroke-width="3.7"/>
<text text-anchor="end" style="font-size:28.3px" transform="translate(1121.8,1291) rotate(-90) scale(1,1.03)">10 (OPT)</text>
<line x1="1193.5" y1="1268.92" x2="1193.5" y2="1282" stroke="#000" stroke-width="3.7"/>
<text text-anchor="end" style="font-size:28.3px" transform="translate(1199,1291) rotate(-90) scale(1,1.03)">25 (WT)</text>
<line x1="1269.5" y1="1268.92" x2="1269.5" y2="1282" stroke="#000" stroke-width="3.7"/>
<text text-anchor="end" style="font-size:28.3px" transform="translate(1276,1291) rotate(-90) scale(1,1.03)">25 (OPT)</text>
<rect x="1354.9" y="810.1" width="47.5" height="458.8" fill="url(#gr)" stroke="#000" stroke-width="3.7"/>
<line x1="1356.75" y1="962.9" x2="1364.05" y2="962.9" stroke="#000" stroke-width="3.7"/>
<line x1="1393.25" y1="962.9" x2="1400.55" y2="962.9" stroke="#000" stroke-width="3.7"/>
<line x1="1356.75" y1="1116.4" x2="1364.05" y2="1116.4" stroke="#000" stroke-width="3.7"/>
<line x1="1393.25" y1="1116.4" x2="1400.55" y2="1116.4" stroke="#000" stroke-width="3.7"/>
<text transform="translate(1414.5,823.1) scale(1,1.03)">60</text>
<text transform="translate(1414.5,971.2) scale(1,1.03)">40</text>
<text transform="translate(1414.5,1121.4) scale(1,1.03)">20</text>
<text transform="translate(1414.5,1271.7) scale(1,1.03)">0</text>
<line x1="1751.35" y1="170.6" x2="1751.35" y2="398.5" stroke="#000" stroke-width="4.1"/>
<line x1="1751.35" y1="430.6" x2="1751.35" y2="434" stroke="#000" stroke-width="4.1"/>
<line x1="1738.35" y1="170.6" x2="1764.35" y2="170.6" stroke="#000" stroke-width="4.1"/>
<line x1="1738.35" y1="434" x2="1764.35" y2="434" stroke="#000" stroke-width="4.1"/>
<rect x="1727.35" y="400.75" width="48" height="27.6" fill="#a1fca0" stroke="#000" stroke-width="4.5"/>
<line x1="1727.35" y1="417.4" x2="1775.35" y2="417.4" stroke="#000" stroke-width="4.1"/>
<ellipse cx="1751.35" cy="170.6" rx="5.4" ry="4.7"/>
<ellipse cx="1751.35" cy="398.5" rx="5.4" ry="4.7"/>
<ellipse cx="1751.35" cy="407.1" rx="5.4" ry="4.7"/>
<ellipse cx="1751.35" cy="417.4" rx="5.4" ry="4.7"/>
<ellipse cx="1742.75" cy="423.79" rx="5.4" ry="4.7"/>
<ellipse cx="1742.75" cy="433.42" rx="5.4" ry="4.7"/>
<ellipse cx="1759.95" cy="430.21" rx="5.4" ry="4.7"/>
<line x1="1830.1" y1="130.2" x2="1830.1" y2="344.6" stroke="#000" stroke-width="4.1"/>
<line x1="1830.1" y1="424.9" x2="1830.1" y2="430.2" stroke="#000" stroke-width="4.1"/>
<line x1="1817.1" y1="130.2" x2="1843.1" y2="130.2" stroke="#000" stroke-width="4.1"/>
<line x1="1817.1" y1="430.2" x2="1843.1" y2="430.2" stroke="#000" stroke-width="4.1"/>
<rect x="1806.1" y="346.85" width="48" height="75.8" fill="#058205" stroke="#000" stroke-width="4.5"/>
<line x1="1806.1" y1="396.4" x2="1854.1" y2="396.4" stroke="#000" stroke-width="4.1"/>
<ellipse cx="1830.1" cy="130.2" rx="5.4" ry="4.7"/>
<ellipse cx="1830.1" cy="344.6" rx="5.4" ry="4.7"/>
<ellipse cx="1830.1" cy="369.22" rx="5.4" ry="4.7"/>
<ellipse cx="1830.1" cy="396.4" rx="5.4" ry="4.7"/>
<ellipse cx="1821.5" cy="419.08" rx="5.4" ry="4.7"/>
<ellipse cx="1821.5" cy="430.21" rx="5.4" ry="4.7"/>
<ellipse cx="1838.7" cy="423.79" rx="5.4" ry="4.7"/>
<line x1="1908.85" y1="153.5" x2="1908.85" y2="392.3" stroke="#000" stroke-width="4.1"/>
<line x1="1908.85" y1="427.6" x2="1908.85" y2="432.8" stroke="#000" stroke-width="4.1"/>
<line x1="1895.85" y1="153.5" x2="1921.85" y2="153.5" stroke="#000" stroke-width="4.1"/>
<line x1="1895.85" y1="432.8" x2="1921.85" y2="432.8" stroke="#000" stroke-width="4.1"/>
<rect x="1884.85" y="394.55" width="48" height="30.8" fill="#a1fca0" stroke="#000" stroke-width="4.5"/>
<line x1="1884.85" y1="411" x2="1932.85" y2="411" stroke="#000" stroke-width="4.1"/>
<ellipse cx="1908.85" cy="153.5" rx="5.4" ry="4.7"/>
<ellipse cx="1908.85" cy="392.3" rx="5.4" ry="4.7"/>
<ellipse cx="1908.85" cy="402.39" rx="5.4" ry="4.7"/>
<ellipse cx="1908.85" cy="409.88" rx="5.4" ry="4.7"/>
<ellipse cx="1908.85" cy="427.64" rx="5.4" ry="4.7"/>
<ellipse cx="1925.55" cy="427.64" rx="5.4" ry="4.7"/>
<ellipse cx="1891.85" cy="432.78" rx="5.4" ry="4.7"/>
<line x1="1987.6" y1="130.2" x2="1987.6" y2="344.6" stroke="#000" stroke-width="4.1"/>
<line x1="1987.6" y1="424.9" x2="1987.6" y2="430.2" stroke="#000" stroke-width="4.1"/>
<line x1="1974.6" y1="130.2" x2="2000.6" y2="130.2" stroke="#000" stroke-width="4.1"/>
<line x1="1974.6" y1="430.2" x2="2000.6" y2="430.2" stroke="#000" stroke-width="4.1"/>
<rect x="1963.6" y="346.85" width="48" height="75.8" fill="#058205" stroke="#000" stroke-width="4.5"/>
<line x1="1963.6" y1="396.4" x2="2011.6" y2="396.4" stroke="#000" stroke-width="4.1"/>
<ellipse cx="1987.6" cy="130.2" rx="5.4" ry="4.7"/>
<ellipse cx="1987.6" cy="344.6" rx="5.4" ry="4.7"/>
<ellipse cx="1987.6" cy="369.22" rx="5.4" ry="4.7"/>
<ellipse cx="1987.6" cy="396.4" rx="5.4" ry="4.7"/>
<ellipse cx="1979" cy="419.08" rx="5.4" ry="4.7"/>
<ellipse cx="1979" cy="430.21" rx="5.4" ry="4.7"/>
<ellipse cx="1996.2" cy="423.79" rx="5.4" ry="4.7"/>
<circle cx="1650.7" cy="442.7" r="4.9" fill="#000"/>
<circle cx="1658.05" cy="442.7" r="4.9" fill="#000"/>
<circle cx="1665.4" cy="442.7" r="4.9" fill="#000"/>
<circle cx="1672.75" cy="442.7" r="4.9" fill="#000"/>
<circle cx="1680.1" cy="442.7" r="4.9" fill="#000"/>
<circle cx="1687.45" cy="442.7" r="4.9" fill="#000"/>
<circle cx="1694.8" cy="442.7" r="4.9" fill="#000"/>
<line x1="1620.6" y1="445" x2="1620.6" y2="97.6" stroke="#000" stroke-width="4.6"/>
<line x1="1602.8" y1="442.7" x2="2042.3" y2="442.7" stroke="#000" stroke-width="4.6"/>
<line x1="1602.8" y1="99.9" x2="1620.6" y2="99.9" stroke="#000" stroke-width="4.6"/>
<text text-anchor="end" transform="translate(1592.5,110.4) scale(1,1.03)">60</text>
<line x1="1602.8" y1="214.2" x2="1620.6" y2="214.2" stroke="#000" stroke-width="4.6"/>
<text text-anchor="end" transform="translate(1592.5,224.7) scale(1,1.03)">40</text>
<line x1="1602.8" y1="328.5" x2="1620.6" y2="328.5" stroke="#000" stroke-width="4.6"/>
<text text-anchor="end" transform="translate(1592.5,339) scale(1,1.03)">20</text>
<line x1="1602.8" y1="442.8" x2="1620.6" y2="442.8" stroke="#000" stroke-width="4.6"/>
<text text-anchor="end" transform="translate(1592.5,453.3) scale(1,1.03)">0</text>
<line x1="1672.1" y1="442.7" x2="1672.1" y2="457.3" stroke="#000" stroke-width="4.6"/>
<text text-anchor="end" style="font-size:28.3px" transform="translate(1681.8,468.4) rotate(-90) scale(1,1.03)">0</text>
<line x1="1750.85" y1="442.7" x2="1750.85" y2="457.3" stroke="#000" stroke-width="4.6"/>
<text text-anchor="end" style="font-size:28.3px" transform="translate(1759.1,467.1) rotate(-90) scale(1,1.03)">10 (WT)</text>
<line x1="1829.6" y1="442.7" x2="1829.6" y2="457.3" stroke="#000" stroke-width="4.6"/>
<text text-anchor="end" style="font-size:28.3px" transform="translate(1837,467.1) rotate(-90) scale(1,1.03)">10 (OPT)</text>
<line x1="1908.35" y1="442.7" x2="1908.35" y2="457.3" stroke="#000" stroke-width="4.6"/>
<text text-anchor="end" style="font-size:28.3px" transform="translate(1916.1,467.1) rotate(-90) scale(1,1.03)">25 (WT)</text>
<line x1="1987.1" y1="442.7" x2="1987.1" y2="457.3" stroke="#000" stroke-width="4.6"/>
<text text-anchor="end" style="font-size:28.3px" transform="translate(1992.5,467.1) rotate(-90) scale(1,1.03)">25 (OPT)</text>
<line x1="1743.1" y1="109.4" x2="1826.8" y2="109.4" stroke="#000" stroke-width="4.4"/>
<text text-anchor="middle" class="pv" style="font-size:24.5px" textLength="90.5" lengthAdjust="spacingAndGlyphs" transform="translate(1785.75,97.6)">P = 0.02</text>
<line x1="1903.6" y1="109.4" x2="1987.1" y2="109.4" stroke="#000" stroke-width="4.4"/>
<text text-anchor="middle" class="pv" style="font-size:24.5px" textLength="90.5" lengthAdjust="spacingAndGlyphs" transform="translate(1946.15,97.6)">P = 0.02</text>
<text text-anchor="middle" transform="translate(1509.9,270.6) rotate(-90) scale(1,1.03)">C-to-T conversion (%)</text>
<text text-anchor="middle" transform="translate(1828.6,624.2) scale(1,1.03)">Volume of VLPs (µl)</text>
<line x1="1757.8" y1="1002.3" x2="1757.8" y2="1181.9" stroke="#000" stroke-width="4.1"/>
<line x1="1757.8" y1="1195.5" x2="1757.8" y2="1197.5" stroke="#000" stroke-width="4.1"/>
<line x1="1744.8" y1="1002.3" x2="1770.8" y2="1002.3" stroke="#000" stroke-width="4.1"/>
<line x1="1744.8" y1="1197.5" x2="1770.8" y2="1197.5" stroke="#000" stroke-width="4.1"/>
<rect x="1733.8" y="1184.15" width="48" height="9.1" fill="#ffa0a0" stroke="#000" stroke-width="4.5"/>
<line x1="1733.8" y1="1190" x2="1781.8" y2="1190" stroke="#000" stroke-width="4.1"/>
<ellipse cx="1757.8" cy="1002.3" rx="4.9" ry="4.2"/>
<ellipse cx="1735.8" cy="1181.88" rx="4.9" ry="4.2"/>
<ellipse cx="1779.8" cy="1178.64" rx="4.9" ry="4.2"/>
<ellipse cx="1735.8" cy="1188.35" rx="4.9" ry="4.2"/>
<ellipse cx="1765.8" cy="1185.11" rx="4.9" ry="4.2"/>
<ellipse cx="1735.8" cy="1195.47" rx="4.9" ry="4.2"/>
<ellipse cx="1749.8" cy="1193.2" rx="4.9" ry="4.2"/>
<ellipse cx="1765.8" cy="1194.17" rx="4.9" ry="4.2"/>
<ellipse cx="1779.8" cy="1195.47" rx="4.9" ry="4.2"/>
<line x1="1836.9" y1="918.4" x2="1836.9" y2="1160.8" stroke="#000" stroke-width="4.1"/>
<line x1="1836.9" y1="1193.9" x2="1836.9" y2="1197.4" stroke="#000" stroke-width="4.1"/>
<line x1="1823.9" y1="918.4" x2="1849.9" y2="918.4" stroke="#000" stroke-width="4.1"/>
<line x1="1823.9" y1="1197.4" x2="1849.9" y2="1197.4" stroke="#000" stroke-width="4.1"/>
<rect x="1812.9" y="1163.05" width="48" height="28.6" fill="#ff0000" stroke="#000" stroke-width="4.5"/>
<line x1="1812.9" y1="1175.4" x2="1860.9" y2="1175.4" stroke="#000" stroke-width="4.1"/>
<ellipse cx="1836.9" cy="918.4" rx="4.9" ry="4.2"/>
<ellipse cx="1836.9" cy="1147.9" rx="4.9" ry="4.2"/>
<ellipse cx="1820.4" cy="1174.76" rx="4.9" ry="4.2"/>
<ellipse cx="1836.9" cy="1174.76" rx="4.9" ry="4.2"/>
<ellipse cx="1853.4" cy="1174.76" rx="4.9" ry="4.2"/>
<ellipse cx="1853.4" cy="1187.38" rx="4.9" ry="4.2"/>
<ellipse cx="1836.9" cy="1191.59" rx="4.9" ry="4.2"/>
<ellipse cx="1820.4" cy="1196.44" rx="4.9" ry="4.2"/>
<ellipse cx="1853.4" cy="1195.47" rx="4.9" ry="4.2"/>
<line x1="1916" y1="979.9" x2="1916" y2="1177" stroke="#000" stroke-width="4.1"/>
<line x1="1916" y1="1194.2" x2="1916" y2="1197.5" stroke="#000" stroke-width="4.1"/>
<line x1="1903" y1="979.9" x2="1929" y2="979.9" stroke="#000" stroke-width="4.1"/>
<line x1="1903" y1="1197.5" x2="1929" y2="1197.5" stroke="#000" stroke-width="4.1"/>
<rect x="1892" y="1179.25" width="48" height="12.7" fill="#ffa0a0" stroke="#000" stroke-width="4.5"/>
<line x1="1892" y1="1186.7" x2="1940" y2="1186.7" stroke="#000" stroke-width="4.1"/>
<ellipse cx="1916" cy="979.9" rx="4.9" ry="4.2"/>
<ellipse cx="1916" cy="1176.05" rx="4.9" ry="4.2"/>
<ellipse cx="1933" cy="1177.99" rx="4.9" ry="4.2"/>
<ellipse cx="1899" cy="1180.26" rx="4.9" ry="4.2"/>
<ellipse cx="1933" cy="1185.11" rx="4.9" ry="4.2"/>
<ellipse cx="1899" cy="1188.35" rx="4.9" ry="4.2"/>
<ellipse cx="1916" cy="1192.23" rx="4.9" ry="4.2"/>
<ellipse cx="1899" cy="1196.44" rx="4.9" ry="4.2"/>
<ellipse cx="1933" cy="1195.47" rx="4.9" ry="4.2"/>
<line x1="1995.1" y1="901.3" x2="1995.1" y2="1133.3" stroke="#000" stroke-width="4.1"/>
<line x1="1995.1" y1="1191.6" x2="1995.1" y2="1194.8" stroke="#000" stroke-width="4.1"/>
<line x1="1982.1" y1="901.3" x2="2008.1" y2="901.3" stroke="#000" stroke-width="4.1"/>
<line x1="1982.1" y1="1194.8" x2="2008.1" y2="1194.8" stroke="#000" stroke-width="4.1"/>
<rect x="1971.1" y="1135.55" width="48" height="53.8" fill="#ff0000" stroke="#000" stroke-width="4.5"/>
<line x1="1971.1" y1="1172.8" x2="2019.1" y2="1172.8" stroke="#000" stroke-width="4.1"/>
<ellipse cx="1995.1" cy="901.3" rx="4.9" ry="4.2"/>
<ellipse cx="1995.1" cy="1122.98" rx="4.9" ry="4.2"/>
<ellipse cx="2012.1" cy="1144.01" rx="4.9" ry="4.2"/>
<ellipse cx="1995.1" cy="1149.51" rx="4.9" ry="4.2"/>
<ellipse cx="1986.6" cy="1174.76" rx="4.9" ry="4.2"/>
<ellipse cx="2003.6" cy="1174.76" rx="4.9" ry="4.2"/>
<ellipse cx="1995.1" cy="1188.35" rx="4.9" ry="4.2"/>
<ellipse cx="1978.1" cy="1194.82" rx="4.9" ry="4.2"/>
<ellipse cx="2012.1" cy="1193.53" rx="4.9" ry="4.2"/>
<circle cx="1656.3" cy="1202.3" r="4.4" fill="#000"/>
<circle cx="1661.88" cy="1202.3" r="4.4" fill="#000"/>
<circle cx="1667.45" cy="1202.3" r="4.4" fill="#000"/>
<circle cx="1673.03" cy="1202.3" r="4.4" fill="#000"/>
<circle cx="1678.6" cy="1202.3" r="4.4" fill="#000"/>
<circle cx="1684.17" cy="1202.3" r="4.4" fill="#000"/>
<circle cx="1689.75" cy="1202.3" r="4.4" fill="#000"/>
<circle cx="1695.33" cy="1202.3" r="4.4" fill="#000"/>
<circle cx="1700.9" cy="1202.3" r="4.4" fill="#000"/>
<line x1="1626" y1="1204.6" x2="1626" y2="856.9" stroke="#000" stroke-width="4.6"/>
<line x1="1607.9" y1="1202.3" x2="2050" y2="1202.3" stroke="#000" stroke-width="4.6"/>
<line x1="1607.9" y1="859.2" x2="1626" y2="859.2" stroke="#000" stroke-width="4.6"/>
<text text-anchor="end" transform="translate(1601.5,869.7) scale(1,1.03)">60</text>
<line x1="1607.9" y1="973.6" x2="1626" y2="973.6" stroke="#000" stroke-width="4.6"/>
<text text-anchor="end" transform="translate(1601.5,984.1) scale(1,1.03)">40</text>
<line x1="1607.9" y1="1088" x2="1626" y2="1088" stroke="#000" stroke-width="4.6"/>
<text text-anchor="end" transform="translate(1601.5,1098.5) scale(1,1.03)">20</text>
<line x1="1607.9" y1="1202.4" x2="1626" y2="1202.4" stroke="#000" stroke-width="4.6"/>
<text text-anchor="end" transform="translate(1601.5,1212.9) scale(1,1.03)">0</text>
<line x1="1678.2" y1="1202.3" x2="1678.2" y2="1217" stroke="#000" stroke-width="4.6"/>
<text text-anchor="end" style="font-size:28.3px" transform="translate(1685.3,1228.4) rotate(-90) scale(1,1.03)">0</text>
<line x1="1757.3" y1="1202.3" x2="1757.3" y2="1217" stroke="#000" stroke-width="4.6"/>
<text text-anchor="end" style="font-size:28.3px" transform="translate(1767.1,1227.1) rotate(-90) scale(1,1.03)">10 (WT)</text>
<line x1="1836.4" y1="1202.3" x2="1836.4" y2="1217" stroke="#000" stroke-width="4.6"/>
<text text-anchor="end" style="font-size:28.3px" transform="translate(1842,1227.1) rotate(-90) scale(1,1.03)">10 (OPT)</text>
<line x1="1915.5" y1="1202.3" x2="1915.5" y2="1217" stroke="#000" stroke-width="4.6"/>
<text text-anchor="end" style="font-size:28.3px" transform="translate(1923.6,1227.1) rotate(-90) scale(1,1.03)">25 (WT)</text>
<line x1="1994.6" y1="1202.3" x2="1994.6" y2="1217" stroke="#000" stroke-width="4.6"/>
<text text-anchor="end" style="font-size:28.3px" transform="translate(2001.7,1227.1) rotate(-90) scale(1,1.03)">25 (OPT)</text>
<line x1="1908.9" y1="870.9" x2="1992.1" y2="870.9" stroke="#000" stroke-width="4.4"/>
<text text-anchor="middle" class="pv" style="font-size:24.5px" textLength="90.5" lengthAdjust="spacingAndGlyphs" transform="translate(1951.3,858.4)">P = 0.02</text>
<text text-anchor="middle" transform="translate(1514.7,1023.3) rotate(-90) scale(1,1.03)">C-to-T conversion (%)</text>
<text text-anchor="middle" transform="translate(1840,1388.3) scale(1,1.03)">Volume of VLPs (µl)</text>
<text class="pl" transform="translate(6.5,1530.3) scale(1,1.03)">e</text>
<text text-anchor="middle" class="i" transform="translate(309.2,1551.2) scale(1,1.03)">Dnmt1</text>
<text text-anchor="middle" transform="translate(37.4,1765) rotate(-90) scale(1,1.03)">C-to-T conversion</text>
<text text-anchor="middle" textLength="337.5" lengthAdjust="spacingAndGlyphs" transform="translate(70.9,1767.3) rotate(-90) scale(1,1.03)">in morula &amp; blastocyst (%)</text>
<line x1="131.6" y1="1959.05" x2="131.6" y2="1572.35" stroke="#000" stroke-width="3.7"/>
<line x1="115.1" y1="1957.2" x2="459" y2="1957.2" stroke="#000" stroke-width="3.7"/>
<line x1="115.1" y1="1574.2" x2="131.6" y2="1574.2" stroke="#000" stroke-width="3.7"/>
<text text-anchor="end" transform="translate(117.2,1584.4) scale(1,1.03)">15</text>
<line x1="115.1" y1="1701.7" x2="131.6" y2="1701.7" stroke="#000" stroke-width="3.7"/>
<text text-anchor="end" transform="translate(117.2,1711.9) scale(1,1.03)">10</text>
<line x1="115.1" y1="1829.2" x2="131.6" y2="1829.2" stroke="#000" stroke-width="3.7"/>
<text text-anchor="end" transform="translate(117.2,1839.4) scale(1,1.03)">5</text>
<line x1="115.1" y1="1956.7" x2="131.6" y2="1956.7" stroke="#000" stroke-width="3.7"/>
<text text-anchor="end" transform="translate(117.2,1966.9) scale(1,1.03)">0</text>
<line x1="195.9" y1="1957.2" x2="195.9" y2="1973.3" stroke="#000" stroke-width="3.7"/>
<line x1="293.7" y1="1957.2" x2="293.7" y2="1973.3" stroke="#000" stroke-width="3.7"/>
<line x1="391.1" y1="1957.2" x2="391.1" y2="1973.3" stroke="#000" stroke-width="3.7"/>
<circle cx="170.5" cy="1952.6" r="6.4" fill="#02c302"/>
<circle cx="173.75" cy="1945.6" r="6.4" fill="#02c302"/>
<circle cx="177" cy="1951.6" r="6.4" fill="#02c302"/>
<circle cx="180.25" cy="1946.6" r="6.4" fill="#02c302"/>
<circle cx="183.5" cy="1952.6" r="6.4" fill="#02c302"/>
<circle cx="186.75" cy="1945.6" r="6.4" fill="#02c302"/>
<circle cx="190" cy="1951.6" r="6.4" fill="#02c302"/>
<circle cx="193.25" cy="1946.6" r="6.4" fill="#02c302"/>
<circle cx="196.5" cy="1952.6" r="6.4" fill="#02c302"/>
<circle cx="199.75" cy="1945.6" r="6.4" fill="#02c302"/>
<circle cx="203" cy="1951.6" r="6.4" fill="#02c302"/>
<circle cx="206.25" cy="1946.6" r="6.4" fill="#02c302"/>
<circle cx="209.5" cy="1952.6" r="6.4" fill="#02c302"/>
<circle cx="212.75" cy="1945.6" r="6.4" fill="#02c302"/>
<circle cx="216" cy="1951.6" r="6.4" fill="#02c302"/>
<circle cx="219.25" cy="1946.6" r="6.4" fill="#02c302"/>
<circle cx="222.5" cy="1952.6" r="6.4" fill="#02c302"/>
<circle cx="170.5" cy="1949.6" r="6.4" fill="#02c302"/>
<circle cx="177" cy="1949.6" r="6.4" fill="#02c302"/>
<circle cx="183.5" cy="1949.6" r="6.4" fill="#02c302"/>
<circle cx="190" cy="1949.6" r="6.4" fill="#02c302"/>
<circle cx="196.5" cy="1949.6" r="6.4" fill="#02c302"/>
<circle cx="203" cy="1949.6" r="6.4" fill="#02c302"/>
<circle cx="209.5" cy="1949.6" r="6.4" fill="#02c302"/>
<circle cx="216" cy="1949.6" r="6.4" fill="#02c302"/>
<circle cx="222.5" cy="1949.6" r="6.4" fill="#02c302"/>
<circle cx="268.2" cy="1952.6" r="6.4" fill="#02c302"/>
<circle cx="271.86" cy="1950.6" r="6.4" fill="#02c302"/>
<circle cx="275.53" cy="1951.6" r="6.4" fill="#02c302"/>
<circle cx="279.19" cy="1952.6" r="6.4" fill="#02c302"/>
<circle cx="282.86" cy="1950.6" r="6.4" fill="#02c302"/>
<circle cx="286.52" cy="1951.6" r="6.4" fill="#02c302"/>
<circle cx="290.19" cy="1952.6" r="6.4" fill="#02c302"/>
<circle cx="293.85" cy="1950.6" r="6.4" fill="#02c302"/>
<circle cx="297.51" cy="1951.6" r="6.4" fill="#02c302"/>
<circle cx="301.18" cy="1952.6" r="6.4" fill="#02c302"/>
<circle cx="304.84" cy="1950.6" r="6.4" fill="#02c302"/>
<circle cx="308.51" cy="1951.6" r="6.4" fill="#02c302"/>
<circle cx="312.17" cy="1952.6" r="6.4" fill="#02c302"/>
<circle cx="315.84" cy="1950.6" r="6.4" fill="#02c302"/>
<circle cx="319.5" cy="1951.6" r="6.4" fill="#02c302"/>
<circle cx="268.2" cy="1948.6" r="6.4" fill="#02c302"/>
<circle cx="278.8" cy="1951.6" r="6.4" fill="#02c302"/>
<circle cx="289.4" cy="1949.6" r="6.4" fill="#02c302"/>
<circle cx="300" cy="1950.6" r="6.4" fill="#02c302"/>
<circle cx="365.5" cy="1952.6" r="6.4" fill="#02c302"/>
<circle cx="369.14" cy="1950.6" r="6.4" fill="#02c302"/>
<circle cx="372.79" cy="1951.6" r="6.4" fill="#02c302"/>
<circle cx="376.43" cy="1952.6" r="6.4" fill="#02c302"/>
<circle cx="380.07" cy="1950.6" r="6.4" fill="#02c302"/>
<circle cx="383.71" cy="1951.6" r="6.4" fill="#02c302"/>
<circle cx="387.36" cy="1952.6" r="6.4" fill="#02c302"/>
<circle cx="391" cy="1950.6" r="6.4" fill="#02c302"/>
<circle cx="394.64" cy="1951.6" r="6.4" fill="#02c302"/>
<circle cx="398.29" cy="1952.6" r="6.4" fill="#02c302"/>
<circle cx="401.93" cy="1950.6" r="6.4" fill="#02c302"/>
<circle cx="405.57" cy="1951.6" r="6.4" fill="#02c302"/>
<circle cx="409.21" cy="1952.6" r="6.4" fill="#02c302"/>
<circle cx="412.86" cy="1950.6" r="6.4" fill="#02c302"/>
<circle cx="416.5" cy="1951.6" r="6.4" fill="#02c302"/>
<circle cx="365.5" cy="1948.6" r="6.4" fill="#02c302"/>
<circle cx="377" cy="1951.6" r="6.4" fill="#02c302"/>
<circle cx="388.5" cy="1949.6" r="6.4" fill="#02c302"/>
<circle cx="400" cy="1948.6" r="6.4" fill="#02c302"/>
<circle cx="293.7" cy="1777.6" r="6.4" fill="#02c302"/>
<circle cx="293.7" cy="1822.2" r="6.4" fill="#02c302"/>
<circle cx="293.7" cy="1888.2" r="6.4" fill="#02c302"/>
<circle cx="293.7" cy="1906.2" r="6.4" fill="#02c302"/>
<circle cx="293.7" cy="1940.9" r="6.4" fill="#02c302"/>
<circle cx="391.1" cy="1772.8" r="6.4" fill="#02c302"/>
<circle cx="396" cy="1943" r="6.4" fill="#02c302"/>
<text transform="translate(163,2011.7) scale(1,1.03)">Control</text>
<text transform="translate(276.5,2011.7) scale(1,1.03)">10%</text>
<text transform="translate(371,2011.7) scale(1,1.03)">20%</text>
<text class="pl" transform="translate(504,1531.8) scale(1,1.03)">f</text>
<text text-anchor="middle" class="i" transform="translate(808.5,1551.2) scale(1,1.03)">Hpd</text>
<text text-anchor="middle" transform="translate(529.3,1767.3) rotate(-90) scale(1,1.03)">C-to-T conversion</text>
<text text-anchor="middle" textLength="336" lengthAdjust="spacingAndGlyphs" transform="translate(563.1,1771) rotate(-90) scale(1,1.03)">in morula &amp; blastocyst (%)</text>
<line x1="650.5" y1="1960.05" x2="650.5" y2="1576.85" stroke="#000" stroke-width="3.7"/>
<line x1="634" y1="1958.2" x2="972.8" y2="1958.2" stroke="#000" stroke-width="3.7"/>
<line x1="634" y1="1578.7" x2="650.5" y2="1578.7" stroke="#000" stroke-width="3.7"/>
<text text-anchor="end" transform="translate(618.5,1588.9) scale(1,1.03)">20</text>
<line x1="634" y1="1673.57" x2="650.5" y2="1673.57" stroke="#000" stroke-width="3.7"/>
<text text-anchor="end" transform="translate(618.5,1683.77) scale(1,1.03)">15</text>
<line x1="634" y1="1768.44" x2="650.5" y2="1768.44" stroke="#000" stroke-width="3.7"/>
<text text-anchor="end" transform="translate(618.5,1778.64) scale(1,1.03)">10</text>
<line x1="634" y1="1863.31" x2="650.5" y2="1863.31" stroke="#000" stroke-width="3.7"/>
<text text-anchor="end" transform="translate(618.5,1873.51) scale(1,1.03)">5</text>
<line x1="634" y1="1958.18" x2="650.5" y2="1958.18" stroke="#000" stroke-width="3.7"/>
<text text-anchor="end" transform="translate(618.5,1968.38) scale(1,1.03)">0</text>
<line x1="714.2" y1="1958.2" x2="714.2" y2="1974.4" stroke="#000" stroke-width="3.7"/>
<line x1="810.4" y1="1958.2" x2="810.4" y2="1974.4" stroke="#000" stroke-width="3.7"/>
<line x1="906.7" y1="1958.2" x2="906.7" y2="1974.4" stroke="#000" stroke-width="3.7"/>
<circle cx="688" cy="1956.3" r="6.3" fill="#0c7c95"/>
<circle cx="693.2" cy="1955.3" r="6.3" fill="#0c7c95"/>
<circle cx="698.4" cy="1957.3" r="6.3" fill="#0c7c95"/>
<circle cx="703.6" cy="1958.3" r="6.3" fill="#0c7c95"/>
<circle cx="708.8" cy="1957.3" r="6.3" fill="#0c7c95"/>
<circle cx="714" cy="1957.3" r="6.3" fill="#0c7c95"/>
<circle cx="719.2" cy="1958.3" r="6.3" fill="#0c7c95"/>
<circle cx="724.4" cy="1957.3" r="6.3" fill="#0c7c95"/>
<circle cx="729.6" cy="1956.3" r="6.3" fill="#0c7c95"/>
<circle cx="734.8" cy="1957.3" r="6.3" fill="#0c7c95"/>
<circle cx="740" cy="1956.3" r="6.3" fill="#0c7c95"/>
<circle cx="784" cy="1955.3" r="6.3" fill="#0c7c95"/>
<circle cx="789.3" cy="1957.3" r="6.3" fill="#0c7c95"/>
<circle cx="794.6" cy="1958.3" r="6.3" fill="#0c7c95"/>
<circle cx="799.9" cy="1957.3" r="6.3" fill="#0c7c95"/>
<circle cx="805.2" cy="1957.3" r="6.3" fill="#0c7c95"/>
<circle cx="810.5" cy="1955.3" r="6.3" fill="#0c7c95"/>
<circle cx="815.8" cy="1957.3" r="6.3" fill="#0c7c95"/>
<circle cx="821.1" cy="1957.3" r="6.3" fill="#0c7c95"/>
<circle cx="826.4" cy="1958.3" r="6.3" fill="#0c7c95"/>
<circle cx="831.7" cy="1957.3" r="6.3" fill="#0c7c95"/>
<circle cx="837" cy="1957.3" r="6.3" fill="#0c7c95"/>
<circle cx="880.3" cy="1956.3" r="6.3" fill="#0c7c95"/>
<circle cx="885.55" cy="1957.3" r="6.3" fill="#0c7c95"/>
<circle cx="890.8" cy="1957.3" r="6.3" fill="#0c7c95"/>
<circle cx="896.05" cy="1958.3" r="6.3" fill="#0c7c95"/>
<circle cx="901.3" cy="1957.3" r="6.3" fill="#0c7c95"/>
<circle cx="906.55" cy="1957.3" r="6.3" fill="#0c7c95"/>
<circle cx="911.8" cy="1957.3" r="6.3" fill="#0c7c95"/>
<circle cx="917.05" cy="1955.3" r="6.3" fill="#0c7c95"/>
<circle cx="922.3" cy="1957.3" r="6.3" fill="#0c7c95"/>
<circle cx="927.55" cy="1957.3" r="6.3" fill="#0c7c95"/>
<circle cx="932.8" cy="1957.3" r="6.3" fill="#0c7c95"/>
<circle cx="810.4" cy="1695" r="6.3" fill="#0c7c95"/>
<circle cx="810.4" cy="1733" r="6.3" fill="#0c7c95"/>
<circle cx="810.4" cy="1841.3" r="6.3" fill="#0c7c95"/>
<circle cx="810.4" cy="1932.5" r="6.3" fill="#0c7c95"/>
<circle cx="906.7" cy="1780" r="6.3" fill="#0c7c95"/>
<circle cx="906.7" cy="1862.5" r="6.3" fill="#0c7c95"/>
<circle cx="906.7" cy="1933.4" r="6.3" fill="#0c7c95"/>
<circle cx="906.7" cy="1943.8" r="6.3" fill="#0c7c95"/>
<circle cx="786" cy="1948" r="6.3" fill="#0c7c95"/>
<circle cx="815" cy="1946" r="6.3" fill="#0c7c95"/>
<circle cx="922" cy="1950" r="6.3" fill="#0c7c95"/>
<text transform="translate(665,2011.7) scale(1,1.03)">Control</text>
<text transform="translate(779,2011.7) scale(1,1.03)">10%</text>
<text transform="translate(873.5,2011.7) scale(1,1.03)">20%</text>
<text class="pl" transform="translate(1054.5,1523.8) scale(1,1.03)">g</text>
<text transform="translate(1141.5,1522.3) scale(1,1.035)" style="font-size:28.2px"><tspan class="bi">Dnmt1</tspan><tspan class="b"> 10%</tspan></text>
<text text-anchor="middle" class="b" style="font-size:28.2px" transform="translate(1730,1522.3) scale(1,1.03)">Type</text>
<text text-anchor="middle" class="b" style="font-size:28.2px" transform="translate(1913.5,1522.3) scale(1,1.03)">Frequency (%)</text>
<text class="m" transform="translate(1141.2,1565.1)" textLength="454.2" lengthAdjust="spacing">AAG<tspan class="g">CCG</tspan>GGGTCTCGTTCA<tspan class="u">G</tspan>AGCTGTTCTG</text>
<line x1="1235.87" y1="1568.3" x2="1547.61" y2="1568.3" stroke="#000" stroke-width="1.5"/>
<line x1="1423.82" y1="1568.3" x2="1437.98" y2="1568.3" stroke="#0070c0" stroke-width="1.5"/>
<text text-anchor="middle" transform="translate(1730,1565.1) scale(1,1.03)">WT</text>
<text class="m" transform="translate(1141.2,1608.5)" textLength="454.2" lengthAdjust="spacing">AAGCCGGGGTCTCGTTCA<tspan class="r">A</tspan>AGCTGTTCTG</text>
<text text-anchor="middle" transform="translate(1730,1608.5) scale(1,1.03)">SUB</text>
<text text-anchor="middle" transform="translate(1913,1608.5) scale(1,1.03)">6.90</text>
<text transform="translate(1141.5,1653) scale(1,1.035)" style="font-size:28.2px"><tspan class="bi">Dnmt1</tspan><tspan class="b"> 20%</tspan></text>
<text class="m" transform="translate(1141.2,1695.8)" textLength="454.2" lengthAdjust="spacing">AAG<tspan class="g">CCG</tspan>GGGTCTCGTTCA<tspan class="u">G</tspan>AGCTGTTCTG</text>
<line x1="1235.87" y1="1699" x2="1547.61" y2="1699" stroke="#000" stroke-width="1.5"/>
<line x1="1423.82" y1="1699" x2="1437.98" y2="1699" stroke="#0070c0" stroke-width="1.5"/>
<text text-anchor="middle" transform="translate(1730,1695.8) scale(1,1.03)">WT</text>
<text class="m" transform="translate(1141.2,1739.2)" textLength="454.2" lengthAdjust="spacing">AAGCCGGGGTCTCGTTCA<tspan class="r">A</tspan>AGCTGTTCTG</text>
<text text-anchor="middle" transform="translate(1730,1739.2) scale(1,1.03)">SUB</text>
<text text-anchor="middle" transform="translate(1913,1739.2) scale(1,1.03)">7.06</text>
<text transform="translate(1141.5,1816.8) scale(1,1.035)" style="font-size:28.2px"><tspan class="bi">Hpd</tspan><tspan class="b"> 10%</tspan></text>
<text text-anchor="middle" class="b" style="font-size:28.2px" transform="translate(1730,1816.8) scale(1,1.03)">Type</text>
<text text-anchor="middle" class="b" style="font-size:28.2px" transform="translate(1913.5,1816.8) scale(1,1.03)">Frequency (%)</text>
<text class="m" transform="translate(1141.2,1860.2)" textLength="454.2" lengthAdjust="spacing">TTT<tspan class="g">CCA</tspan>CTCGGTGACCTTCT<tspan class="u">GGG</tspan>TTGGCA</text>
<line x1="1235.87" y1="1863.4" x2="1547.61" y2="1863.4" stroke="#000" stroke-width="1.5"/>
<line x1="1455.14" y1="1863.4" x2="1500.63" y2="1863.4" stroke="#0070c0" stroke-width="1.5"/>
<text text-anchor="middle" transform="translate(1730,1860.2) scale(1,1.03)">WT</text>
<text class="m" transform="translate(1141.2,1903.6)" textLength="454.2" lengthAdjust="spacing">TTTCCACTCGGTGACCTTCTG<tspan class="r">AA</tspan>TTGGCA</text>
<text text-anchor="middle" transform="translate(1730,1903.6) scale(1,1.03)">SUB</text>
<text text-anchor="middle" transform="translate(1913,1903.6) scale(1,1.03)">13.16</text>
<text transform="translate(1141.5,1947.5) scale(1,1.035)" style="font-size:28.2px"><tspan class="bi">Hpd</tspan><tspan class="b"> 20%</tspan></text>
<text class="m" transform="translate(1141.2,1990.4)" textLength="454.2" lengthAdjust="spacing">TTT<tspan class="g">CCA</tspan>CTCGGTGACCTTCT<tspan class="u">GGG</tspan>TTGGCA</text>
<line x1="1235.87" y1="1993.6" x2="1547.61" y2="1993.6" stroke="#000" stroke-width="1.5"/>
<line x1="1455.14" y1="1993.6" x2="1500.63" y2="1993.6" stroke="#0070c0" stroke-width="1.5"/>
<text text-anchor="middle" transform="translate(1730,1990.4) scale(1,1.03)">WT</text>
<text class="m" transform="translate(1141.2,2033.7)" textLength="454.2" lengthAdjust="spacing">TTTCCACTCGGTGACCTTCTG<tspan class="r b">AA</tspan>TTGGCA</text>
<text text-anchor="middle" transform="translate(1730,2033.7) scale(1,1.03)">SUB</text>
<text text-anchor="middle" transform="translate(1913,2033.7) scale(1,1.03)">8.83</text>
</svg>
</body></html>
